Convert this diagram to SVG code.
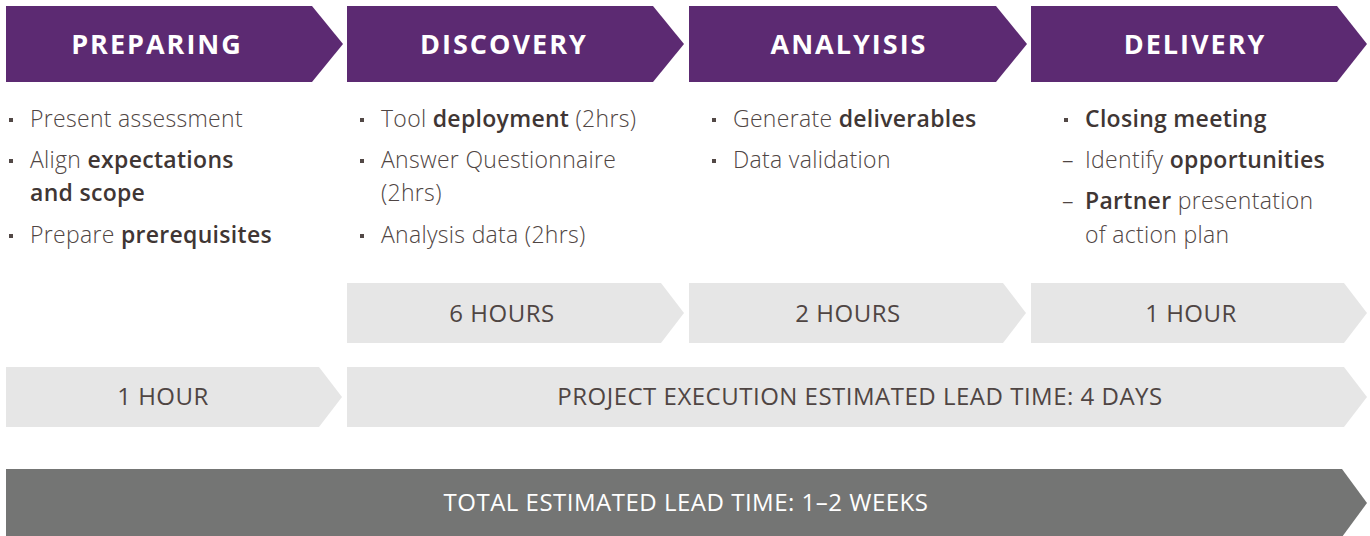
<svg xmlns="http://www.w3.org/2000/svg" width="1370" height="536" viewBox="0 0 1370 536">
<style>
.hdr{fill:#5c2a72}
.lt{fill:#e6e6e6}
.dk{fill:#747574}
.ht{font-family:"Open Sans","Noto Sans",sans-serif;font-size:27px;font-weight:700;fill:#ffffff;text-anchor:middle;letter-spacing:2px}
.bt{font-family:"Open Sans","Noto Sans",sans-serif;font-size:23px;font-weight:300;fill:#4f4543;letter-spacing:0.3px}
.b{font-weight:600;fill:#403634}
.bl{fill:#524846}
.gt{font-family:"Open Sans","Noto Sans",sans-serif;font-size:24px;fill:#4f4543;text-anchor:middle;letter-spacing:0.5px}
.wt{font-family:"Open Sans","Noto Sans",sans-serif;font-size:24px;fill:#ffffff;text-anchor:middle;letter-spacing:0.5px}
</style>
<rect width="1370" height="536" fill="#ffffff"/>
<g id="preparing">
<polygon class="hdr" points="6,6 312,6 343,44 312,82 6,82"/>
<text class="ht" x="157" y="54">PREPARING</text>
<rect class="bl" x="9" y="118" width="4" height="4"/>
<text class="bt" x="30" y="127">Present assessment</text>
<rect class="bl" x="9" y="159" width="4" height="4"/>
<text class="bt" x="30" y="168">Align <tspan class="b">expectations</tspan></text>
<text class="bt" x="30" y="201"><tspan class="b">and scope</tspan></text>
<rect class="bl" x="9" y="234" width="4" height="4"/>
<text class="bt" x="30" y="243">Prepare <tspan class="b">prerequisites</tspan></text>
</g>
<g id="discovery">
<polygon class="hdr" points="347,6 653,6 684,44 653,82 347,82"/>
<text class="ht" x="504" y="54">DISCOVERY</text>
<rect class="bl" x="360" y="118" width="4" height="4"/>
<text class="bt" x="381" y="127">Tool <tspan class="b">deployment</tspan> (2hrs)</text>
<rect class="bl" x="360" y="159" width="4" height="4"/>
<text class="bt" x="381" y="168">Answer Questionnaire</text>
<text class="bt" x="381" y="201">(2hrs)</text>
<rect class="bl" x="360" y="234" width="4" height="4"/>
<text class="bt" x="381" y="243">Analysis data (2hrs)</text>
</g>
<g id="analysis">
<polygon class="hdr" points="689,6 996,6 1027,44 996,82 689,82"/>
<text class="ht" x="849" y="54">ANALYISIS</text>
<rect class="bl" x="712" y="118" width="4" height="4"/>
<text class="bt" x="733" y="127">Generate <tspan class="b">deliverables</tspan></text>
<rect class="bl" x="712" y="159" width="4" height="4"/>
<text class="bt" x="733" y="168">Data validation</text>
</g>
<g id="delivery">
<polygon class="hdr" points="1031,6 1337,6 1367,44 1337,82 1031,82"/>
<text class="ht" x="1195" y="54">DELIVERY</text>
<rect class="bl" x="1064" y="118" width="4" height="4"/>
<text class="bt" x="1085" y="127"><tspan class="b">Closing meeting</tspan></text>
<text class="bt" x="1062" y="168">–</text>
<text class="bt" x="1085" y="168">Identify <tspan class="b">opportunities</tspan></text>
<text class="bt" x="1062" y="209">–</text>
<text class="bt" x="1085" y="209"><tspan class="b">Partner</tspan> presentation</text>
<text class="bt" x="1085" y="243">of action plan</text>
</g>
<g id="six-hours">
<polygon class="lt" points="347,283 661,283 684,313 661,343 347,343"/>
<text class="gt" x="502" y="322">6 HOURS</text>
</g>
<g id="two-hours">
<polygon class="lt" points="689,283 1003,283 1026,313 1003,343 689,343"/>
<text class="gt" x="848" y="322">2 HOURS</text>
</g>
<g id="one-hour-delivery">
<polygon class="lt" points="1031,283 1344,283 1367,313 1344,343 1031,343"/>
<text class="gt" x="1191" y="322">1 HOUR</text>
</g>
<g id="one-hour-preparing">
<polygon class="lt" points="6,367 319,367 342,397 319,427 6,427"/>
<text class="gt" x="163" y="405">1 HOUR</text>
</g>
<g id="project-execution">
<polygon class="lt" points="347,367 1344,367 1367,397 1344,427 347,427"/>
<text class="gt" x="860" y="405">PROJECT EXECUTION ESTIMATED LEAD TIME: 4 DAYS</text>
</g>
<g id="total">
<polygon class="dk" points="6,469 1342,469 1367,503 1342,537 6,537"/>
<text class="wt" x="686" y="511">TOTAL ESTIMATED LEAD TIME: 1–2 WEEKS</text>
</g>
</svg>
